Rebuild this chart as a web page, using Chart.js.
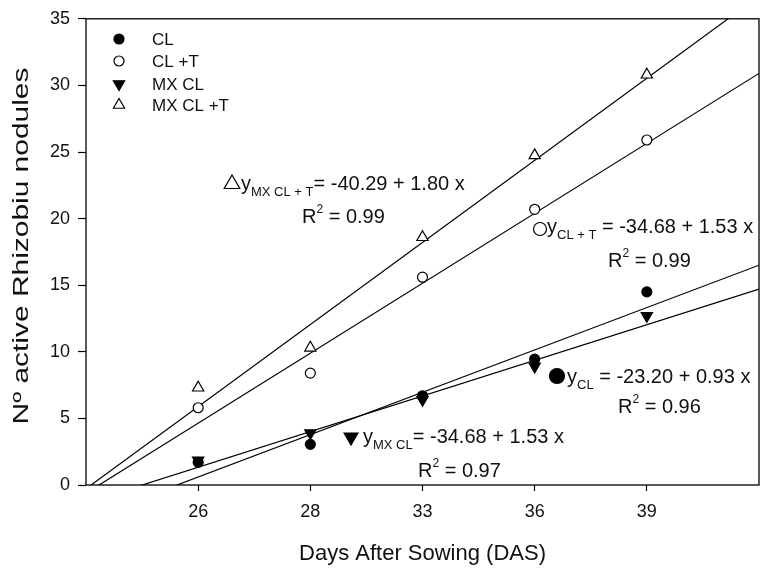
<!DOCTYPE html>
<html>
<head>
<meta charset="utf-8">
<script src="https://cdn.jsdelivr.net/npm/chart.js@4.4.1/dist/chart.umd.min.js"></script>
<style>
  body { margin: 0; background: #fff; }
</style>
</head>
<body>
<canvas id="nodulesChart" width="769" height="569"></canvas>
<script>
// ======================
// DATA
// ======================

const dasLabels = ["26", "28", "33", "36", "39"];
const dasIndex = [1, 2, 3, 4, 5];

const seriesNames = ["CL", "CL +T", "MX CL", "MX CL +T"];

const clValues = [1.7, 3.05, 6.7, 9.45, 14.5];
const clTValues = [5.8, 8.4, 15.6, 20.7, 25.9];
const mxClValues = [1.85, 3.9, 6.4, 8.9, 12.7];
const mxClTValues = [7.3, 10.3, 18.6, 24.75, 30.8];

// regression lines as drawn: value at the left edge (x=0) and right edge (x=6)
const fitLeft = [-2.58, -0.61, -1.34, -0.28];
const fitRight = [16.5, 30.9, 14.7, 36.7];

const eqSubs = ["CL", "CL + T", "MX CL", "MX CL + T"];
const eqRhs = [" = -23.20 + 0.93 x", " = -34.68 + 1.53 x", "= -34.68 + 1.53 x", "= -40.29 + 1.80 x"];
const eqR2 = ["0.96", "0.99", "0.97", "0.99"];

const yTitle = "Nº active Rhizobiu nodules";
const xTitle = "Days After Sowing (DAS)";

const FONT = '"Liberation Sans", Arial, Helvetica, sans-serif';


// ======================
// MARKER STYLES
// ======================

const markers = [
    { style: "circle", radius: 5, rotation: 0, fill: "#000" },
    { style: "circle", radius: 5, rotation: 0, fill: "#fff" },
    { style: "triangle", radius: 6.5, rotation: 180, fill: "#000" },
    { style: "triangle", radius: 6.5, rotation: 0, fill: "#fff" }
];

function drawMarker(ctx, m, x, y, r) {
    ctx.save();
    ctx.fillStyle = m.fill;
    ctx.strokeStyle = "#000";
    ctx.lineWidth = 1.2;
    ctx.beginPath();
    if (m.style === "circle") {
        ctx.arc(x, y, r, 0, Math.PI * 2);
    } else {
        const rot = m.rotation * Math.PI / 180;
        for (let i = 0; i < 3; i++) {
            const a = rot + i * 2 * Math.PI / 3;
            const px = x + Math.sin(a) * r;
            const py = y - Math.cos(a) * r;
            if (i === 0) ctx.moveTo(px, py); else ctx.lineTo(px, py);
        }
        ctx.closePath();
    }
    ctx.fill();
    ctx.stroke();
    ctx.restore();
}

function richText(ctx, x, y, parts) {
    let cx = x;
    parts.forEach(p => {
        ctx.font = p.size + "px " + FONT;
        ctx.fillText(p.text, cx, y + (p.dy || 0));
        cx += ctx.measureText(p.text).width;
    });
}


// ======================
// DATASETS
// ======================

const pointSets = [clValues, clTValues, mxClValues, mxClTValues].map((vals, i) => ({
    label: seriesNames[i],
    data: vals.map((v, k) => ({ x: dasIndex[k], y: v })),
    showLine: false,
    pointStyle: markers[i].style,
    pointRotation: markers[i].rotation,
    pointRadius: markers[i].radius,
    pointHoverRadius: markers[i].radius,
    pointBackgroundColor: markers[i].fill,
    pointBorderColor: "#000",
    pointBorderWidth: 1.2
}));

const fitSets = fitLeft.map((v, i) => ({
    label: "fit " + seriesNames[i],
    data: [{ x: 0, y: v }, { x: 6, y: fitRight[i] }],
    showLine: true,
    borderColor: "#000",
    borderWidth: 1.2,
    pointRadius: 0,
    fill: false
}));


// ======================
// ANNOTATIONS / LEGEND / FRAME
// ======================

const eqPlaces = [
    { sx: 557, sy: 376, sr: 7.5, tx: 567, ty: 383, rx: 618, ry: 413 },
    { sx: 540, sy: 229, sr: 6.5, tx: 547, ty: 233, rx: 608, ry: 267 },
    { sx: 351, sy: 437, sr: 8, tx: 363, ty: 443, rx: 418, ry: 477 },
    { sx: 232, sy: 184, sr: 9, tx: 241, ty: 190, rx: 302, ry: 223 }
];

const decorations = {
    id: "decorations",
    afterDraw(chart) {
        const ctx = chart.ctx;
        const area = chart.chartArea;

        ctx.save();

        // plot frame
        ctx.strokeStyle = "#000";
        ctx.lineWidth = 1.3;
        ctx.strokeRect(area.left, area.top, area.right - area.left, area.bottom - area.top);

        ctx.fillStyle = "#111";
        ctx.textBaseline = "alphabetic";
        ctx.textAlign = "left";

        // equations
        eqPlaces.forEach((p, i) => {
            drawMarker(ctx, markers[i], p.sx, p.sy, p.sr);
            ctx.fillStyle = "#111";
            richText(ctx, p.tx, p.ty, [
                { text: "y", size: 20 },
                { text: eqSubs[i], size: 13, dy: 6 },
                { text: eqRhs[i], size: 20 }
            ]);
            richText(ctx, p.rx, p.ry, [
                { text: "R", size: 20 },
                { text: "2", size: 12, dy: -10 },
                { text: " = " + eqR2[i], size: 20 }
            ]);
        });

        // legend
        const rows = [39, 61, 84, 105];
        seriesNames.forEach((name, i) => {
            drawMarker(ctx, markers[i], 119, rows[i], markers[i].radius);
            ctx.fillStyle = "#111";
            ctx.font = "17px " + FONT;
            ctx.textBaseline = "middle";
            ctx.fillText(name, 152, rows[i] + 1);
        });

        // y axis title (stretched like the original)
        ctx.translate(22, 246);
        ctx.rotate(-Math.PI / 2);
        ctx.scale(1.36, 1);
        ctx.font = "22px " + FONT;
        ctx.textAlign = "center";
        ctx.textBaseline = "middle";
        ctx.fillText(yTitle, 0, 0);

        ctx.restore();
    }
};


// ======================
// CHART
// ======================

new Chart(
    document.getElementById("nodulesChart"),
    {
        type: "scatter",

        data: {
            datasets: [...pointSets, ...fitSets]
        },

        options: {
            responsive: false,
            animation: false,
            layout: {
                padding: { top: 15, right: 10, left: 0, bottom: 0 }
            },
            plugins: {
                legend: { display: false },
                tooltip: { enabled: false }
            },
            scales: {
                x: {
                    type: "linear",
                    min: 0,
                    max: 6,
                    afterFit: scale => { scale.height = 84; },
                    afterBuildTicks: scale => {
                        scale.ticks = dasIndex.map(v => ({ value: v }));
                    },
                    grid: {
                        drawOnChartArea: false,
                        drawTicks: true,
                        tickLength: 6,
                        tickWidth: 1.2,
                        tickColor: "#000"
                    },
                    border: { display: false },
                    ticks: {
                        padding: 10,
                        color: "#111",
                        font: { family: FONT, size: 18 },
                        maxRotation: 0,
                        callback: v => dasLabels[dasIndex.indexOf(v)] ?? ""
                    },
                    title: {
                        display: true,
                        text: xTitle,
                        color: "#111",
                        font: { family: FONT, size: 22 },
                        padding: { top: 0, bottom: 2 }
                    }
                },
                y: {
                    min: 0,
                    max: 35,
                    afterFit: scale => { scale.width = 86; },
                    grid: {
                        drawOnChartArea: false,
                        drawTicks: true,
                        tickLength: 8,
                        tickWidth: 1.2,
                        tickColor: "#000"
                    },
                    border: { display: false },
                    ticks: {
                        stepSize: 5,
                        padding: 8,
                        color: "#111",
                        font: { family: FONT, size: 18 }
                    }
                }
            }
        },

        plugins: [decorations]
    }
);
</script>
</body>
</html>
